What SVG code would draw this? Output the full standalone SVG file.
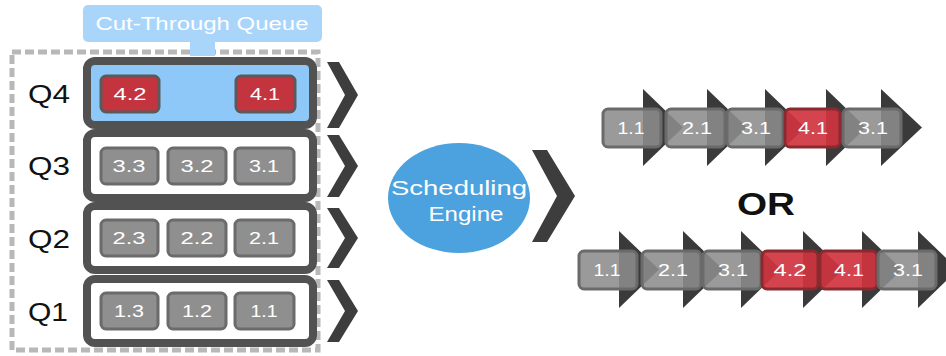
<svg xmlns="http://www.w3.org/2000/svg" width="946" height="356" viewBox="0 0 946 356">
  <style>
    .q{font-family:"Liberation Sans",Arial,sans-serif;font-size:26px;fill:#111}
    .t{font-family:"Liberation Sans",Arial,sans-serif;font-size:17px;fill:#fff;text-anchor:middle}
    .w{font-family:"Liberation Sans",Arial,sans-serif;fill:#fff;text-anchor:middle}
    .row{stroke:#525252;stroke-width:8;fill:#fff}
    .gbox{fill:#8f8f8f;stroke:#6b6b6b;stroke-width:3}
    .rbox{fill:#c3343f;stroke:#5a5a5a;stroke-width:3}
    .chev{fill:#3d3d3d}
    .tri{fill:#3a3a3a}
    .sg{fill:#8c8c8c;fill-opacity:0.88;stroke:#6a6a6a;stroke-width:3}
    .sr{fill:#d0343f;fill-opacity:0.92;stroke:#8a2a30;stroke-width:3}
  </style>

  <!-- outer dashed boundary of the queue set -->
  <rect x="12" y="52" width="306" height="298" fill="none" stroke="#b8b8b8" stroke-width="5" stroke-dasharray="9 4"/>

  <!-- cut-through queue callout -->
  <g id="cut-through-label">
    <rect x="83" y="5" width="239" height="37" rx="5" fill="#a9d5fb"/>
    <rect x="190" y="40" width="25" height="16" fill="#a9d5fb"/>
    <text class="w" x="202" y="30" font-size="18" textLength="213" lengthAdjust="spacingAndGlyphs">Cut-Through Queue</text>
  </g>

  <!-- queue Q4 -->
  <g id="q4">
    <rect class="row" x="87" y="61" width="226" height="64" rx="8" style="fill:#8ec8f8"/>
    <text class="q" x="28" y="103" textLength="42" lengthAdjust="spacingAndGlyphs">Q4</text>
    <rect class="rbox" x="101" y="76" width="58" height="36" rx="5"/>
    <text class="t" x="130" y="100" textLength="33" lengthAdjust="spacingAndGlyphs">4.2</text>
    <rect class="rbox" x="236" y="76" width="59" height="36" rx="5"/>
    <text class="t" x="265" y="100" textLength="30" lengthAdjust="spacingAndGlyphs">4.1</text>
  </g>

  <!-- queue Q3 -->
  <g id="q3">
    <rect class="row" x="87" y="133" width="226" height="65" rx="8"/>
    <text class="q" x="28" y="175" textLength="42" lengthAdjust="spacingAndGlyphs">Q3</text>
    <rect class="gbox" x="101" y="148" width="57" height="36" rx="5"/>
    <text class="t" x="129" y="172" textLength="33" lengthAdjust="spacingAndGlyphs">3.3</text>
    <rect class="gbox" x="168" y="148" width="58" height="36" rx="5"/>
    <text class="t" x="197" y="172" textLength="33" lengthAdjust="spacingAndGlyphs">3.2</text>
    <rect class="gbox" x="235" y="148" width="59" height="36" rx="5"/>
    <text class="t" x="264" y="172" textLength="30" lengthAdjust="spacingAndGlyphs">3.1</text>
  </g>

  <!-- queue Q2 -->
  <g id="q2">
    <rect class="row" x="87" y="206" width="226" height="64" rx="8"/>
    <text class="q" x="28" y="248" textLength="42" lengthAdjust="spacingAndGlyphs">Q2</text>
    <rect class="gbox" x="101" y="220" width="57" height="36" rx="5"/>
    <text class="t" x="129" y="244" textLength="33" lengthAdjust="spacingAndGlyphs">2.3</text>
    <rect class="gbox" x="168" y="220" width="58" height="36" rx="5"/>
    <text class="t" x="197" y="244" textLength="33" lengthAdjust="spacingAndGlyphs">2.2</text>
    <rect class="gbox" x="235" y="220" width="59" height="36" rx="5"/>
    <text class="t" x="264" y="244" textLength="30" lengthAdjust="spacingAndGlyphs">2.1</text>
  </g>

  <!-- queue Q1 -->
  <g id="q1">
    <rect class="row" x="87" y="279" width="226" height="64" rx="8"/>
    <text class="q" x="28" y="321" textLength="40" lengthAdjust="spacingAndGlyphs">Q1</text>
    <rect class="gbox" x="101" y="293" width="57" height="36" rx="5"/>
    <text class="t" x="129" y="317" textLength="30" lengthAdjust="spacingAndGlyphs">1.3</text>
    <rect class="gbox" x="168" y="293" width="58" height="36" rx="5"/>
    <text class="t" x="197" y="317" textLength="30" lengthAdjust="spacingAndGlyphs">1.2</text>
    <rect class="gbox" x="235" y="293" width="59" height="36" rx="5"/>
    <text class="t" x="264" y="317" textLength="27" lengthAdjust="spacingAndGlyphs">1.1</text>
  </g>

  <!-- scheduling engine -->
  <g id="engine">
    <ellipse cx="459" cy="198" rx="71" ry="55" fill="#4ba2de"/>
    <text class="w" x="459" y="195" font-size="21" textLength="136" lengthAdjust="spacingAndGlyphs">Scheduling</text>
    <text class="w" x="466" y="221" font-size="21" textLength="75" lengthAdjust="spacingAndGlyphs">Engine</text>
  </g>

  <g id="connectors">
    <!-- queue outputs into the engine -->
    <polygon class="chev" points="327,62 339,62 358,95 339,128 327,128 345,95"/>
    <polygon class="chev" points="327,135 339,135 358,166 339,197 327,197 345,166"/>
    <polygon class="chev" points="327,208 339,208 358,238 339,268 327,268 345,238"/>
    <polygon class="chev" points="327,280 339,280 358,311 339,342 327,342 345,311"/>
    <!-- engine output -->
    <polygon class="chev" points="532,150 547,150 575,196 547,242 532,242 557,196"/>
  </g>

  <text x="766" y="215" font-family="'Liberation Sans',Arial,sans-serif" font-size="32" font-weight="bold" fill="#111" text-anchor="middle" textLength="58" lengthAdjust="spacingAndGlyphs">OR</text>

  <!-- output stream, option A -->
  <g id="stream-a">
    <polygon class="tri" points="643,89 643,166 683,127.5"/>
    <polygon class="tri" points="707,89 707,166 747,127.5"/>
    <polygon class="tri" points="765,89 765,166 805,127.5"/>
    <polygon class="tri" points="826,89 826,166 866,127.5"/>
    <polygon class="tri" points="881,89 881,166 922,127.5"/>
    <rect class="sg" x="603" y="109" width="58" height="38" rx="5"/>
    <rect class="sg" x="666" y="109" width="59" height="38" rx="5"/>
    <rect class="sg" x="727" y="109" width="56" height="38" rx="5"/>
    <rect class="sr" x="785" y="109" width="55" height="38" rx="5"/>
    <rect class="sg" x="843" y="109" width="58" height="38" rx="5"/>
    <text class="t" x="631" y="134" textLength="27" lengthAdjust="spacingAndGlyphs">1.1</text>
    <text class="t" x="697" y="134" textLength="30" lengthAdjust="spacingAndGlyphs">2.1</text>
    <text class="t" x="756" y="134" textLength="30" lengthAdjust="spacingAndGlyphs">3.1</text>
    <text class="t" x="813" y="134" textLength="30" lengthAdjust="spacingAndGlyphs">4.1</text>
    <text class="t" x="873" y="134" textLength="30" lengthAdjust="spacingAndGlyphs">3.1</text>
  </g>

  <!-- output stream, option B -->
  <g id="stream-b">
    <polygon class="tri" points="619,231 619,308 659,269.5"/>
    <polygon class="tri" points="683,231 683,308 723,269.5"/>
    <polygon class="tri" points="741,231 741,308 781,269.5"/>
    <polygon class="tri" points="803,231 803,308 843,269.5"/>
    <polygon class="tri" points="862,231 862,308 902,269.5"/>
    <polygon class="tri" points="918,231 918,308 958,269.5"/>
    <rect class="sg" x="579" y="251" width="58" height="38" rx="5"/>
    <rect class="sg" x="642" y="251" width="59" height="38" rx="5"/>
    <rect class="sg" x="703" y="251" width="58" height="38" rx="5"/>
    <rect class="sr" x="762" y="251" width="56" height="38" rx="5"/>
    <rect class="sr" x="820" y="251" width="57" height="38" rx="5"/>
    <rect class="sg" x="878" y="251" width="58" height="38" rx="5"/>
    <text class="t" x="607" y="276" textLength="27" lengthAdjust="spacingAndGlyphs">1.1</text>
    <text class="t" x="673" y="276" textLength="30" lengthAdjust="spacingAndGlyphs">2.1</text>
    <text class="t" x="733" y="276" textLength="30" lengthAdjust="spacingAndGlyphs">3.1</text>
    <text class="t" x="790" y="276" textLength="33" lengthAdjust="spacingAndGlyphs">4.2</text>
    <text class="t" x="849" y="276" textLength="30" lengthAdjust="spacingAndGlyphs">4.1</text>
    <text class="t" x="908" y="276" textLength="30" lengthAdjust="spacingAndGlyphs">3.1</text>
  </g>
</svg>
